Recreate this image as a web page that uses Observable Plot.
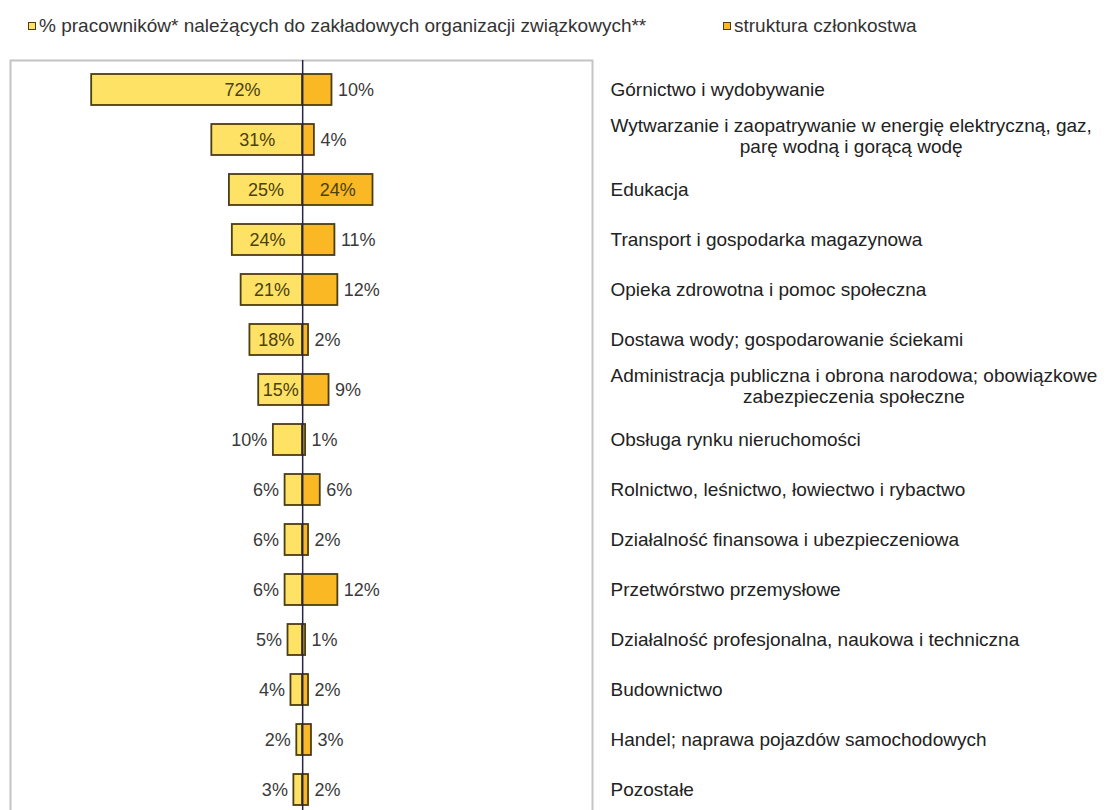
<!DOCTYPE html>
<html><head><meta charset="utf-8">
<script src="https://cdn.jsdelivr.net/npm/d3@7"></script>
<script src="https://cdn.jsdelivr.net/npm/@observablehq/plot@0.6"></script>
<style>
body{margin:0;background:#fff;font-family:"Liberation Sans",Arial,sans-serif;}
#legend{position:relative;height:52px;font-size:19px;color:#333;}
.item{position:absolute;top:15px;display:flex;align-items:center;white-space:nowrap;line-height:22px;}
.sw{width:6px;height:6px;border:1.5px solid #4b3e10;margin-right:3px;}
</style></head><body>
<div id="legend"></div>
<div id="chart"></div>
<script>
const categories = [
  "Górnictwo i wydobywanie",
  "Wytwarzanie i zaopatrywanie w energię elektryczną, gaz,\nparę wodną i gorącą wodę",
  "Edukacja",
  "Transport i gospodarka magazynowa",
  "Opieka zdrowotna i pomoc społeczna",
  "Dostawa wody; gospodarowanie ściekami",
  "Administracja publiczna i obrona narodowa; obowiązkowe\nzabezpieczenia społeczne",
  "Obsługa rynku nieruchomości",
  "Rolnictwo, leśnictwo, łowiectwo i rybactwo",
  "Działalność finansowa i ubezpieczeniowa",
  "Przetwórstwo przemysłowe",
  "Działalność profesjonalna, naukowa i techniczna",
  "Budownictwo",
  "Handel; naprawa pojazdów samochodowych",
  "Pozostałe"
];
const unionShare = [72, 31, 25, 24, 21, 18, 15, 10, 6, 6, 6, 5, 4, 2, 3];
const memberShare = [10, 4, 24, 11, 12, 2, 9, 1, 6, 2, 12, 1, 2, 3, 2];
const legendLabels = [
  "% pracowników* należących do zakładowych organizacji związkowych**",
  "struktura członkostwa"
];

const colUnion = "#FEE266", colMember = "#F9B824", colStroke = "#4b3e10";

// legend
const legend = document.getElementById("legend");
[[legendLabels[0], colUnion, 28], [legendLabels[1], colMember, 723]].forEach(([t, c, left]) => {
  const it = document.createElement("div");
  it.className = "item"; it.style.left = left + "px";
  const sw = document.createElement("div"); sw.className = "sw"; sw.style.background = c;
  const sp = document.createElement("span"); sp.textContent = t;
  it.append(sw, sp); legend.append(it);
});

const rows = categories.map((c, i) => ({cat: c, u: unionShare[i], m: memberShare[i]}));
const xMin = -99.7, xMax = 98.9;
const W = 1113, mL = 10, mR = 521;
const k = (W - mL - mR) / (xMax - xMin);

const ctx = document.createElement("canvas").getContext("2d");
ctx.font = "19px 'Liberation Sans'";
const single = rows.filter(d => !d.cat.includes("\n"));
const multi = rows.filter(d => d.cat.includes("\n"));
const font = {fontFamily: "'Liberation Sans', Arial, sans-serif"};

const chart = Plot.plot({
  width: W, height: 776,
  marginLeft: mL, marginRight: mR, marginTop: 8, marginBottom: 10,
  style: {fontFamily: "'Liberation Sans', Arial, sans-serif", background: "#fff"},
  x: {domain: [xMin, xMax], axis: null},
  y: {domain: categories, axis: null, paddingInner: 0.38, paddingOuter: 0.227},
  marks: [
    Plot.frame({stroke: "#c4c4c4", strokeWidth: 2}),
    Plot.barX(rows, {x1: d => -d.u, x2: 0, y: "cat", fill: colUnion, stroke: colStroke, strokeWidth: 1.8}),
    Plot.barX(rows, {x1: 0, x2: d => d.m, y: "cat", fill: colMember, stroke: colStroke, strokeWidth: 1.8}),
    Plot.ruleX([0], {stroke: "#25254a", strokeWidth: 1.5}),
    Plot.text(rows.filter(d => d.u >= 15), {x: d => -Math.min(d.u / 2, 20.5), y: "cat", text: d => d.u + "%", fontSize: 18, fill: "#4a400c", textAnchor: "middle"}),
    Plot.text(rows.filter(d => d.u < 15), {x: d => -d.u, y: "cat", text: d => d.u + "%", fontSize: 18, fill: "#3a3a3a", textAnchor: "end", dx: -6}),
    Plot.text(rows.filter(d => d.m >= 20), {x: d => d.m / 2, y: "cat", text: d => d.m + "%", fontSize: 18, fill: "#4a400c", textAnchor: "middle"}),
    Plot.text(rows.filter(d => d.m < 20), {x: d => d.m, y: "cat", text: d => d.m + "%", fontSize: 18, fill: "#3a3a3a", textAnchor: "start", dx: 6}),
    Plot.text(single, {y: "cat", text: "cat", frameAnchor: "right", textAnchor: "start", dx: 18, fontSize: 19, fill: "#222"}),
    Plot.text(multi, {
      x: d => xMax + (18 + ctx.measureText(d.cat.split("\n")[0]).width / 2) / k,
      y: "cat", text: "cat", textAnchor: "middle", lineAnchor: "middle", lineHeight: 1.1, dy: -4, fontSize: 19, fill: "#222"
    })
  ]
});
document.getElementById("chart").append(chart);
</script>
</body></html>
